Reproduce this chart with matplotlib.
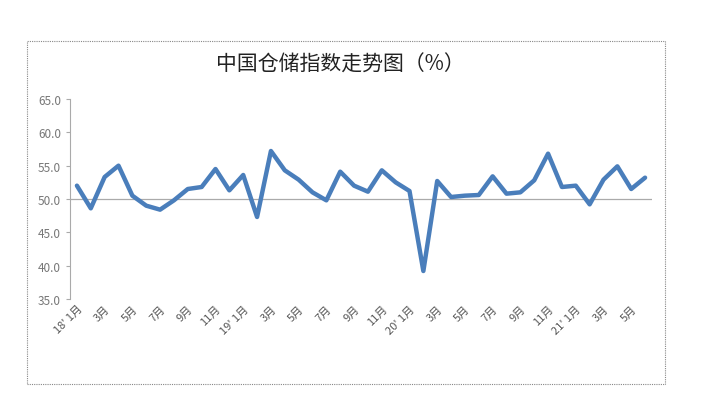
import matplotlib
matplotlib.use("Agg")
import matplotlib.pyplot as plt
from matplotlib.patches import Rectangle

plt.rcParams["font.family"] = ["Noto Sans CJK SC", "DejaVu Sans"]

values = [52.0, 48.6, 53.3, 55.0, 50.5, 49.0, 48.4, 49.8, 51.5, 51.8, 54.5, 51.3,
          53.6, 47.3, 57.2, 54.3, 52.9, 51.0, 49.8, 54.1, 52.0, 51.1, 54.3, 52.5,
          51.2, 39.2, 52.7, 50.3, 50.5, 50.6, 53.4, 50.8, 51.0, 52.8, 56.8, 51.8,
          52.0, 49.2, 52.9, 54.9, 51.5, 53.2]
tick_labels = ["18' 1月", "3月", "5月", "7月", "9月", "11月",
               "19' 1月", "3月", "5月", "7月", "9月", "11月",
               "20' 1月", "3月", "5月", "7月", "9月", "11月",
               "21' 1月", "3月", "5月"]
yticks = [35, 40, 45, 50, 55, 60, 65]
title = "中国仓储指数走势图（%）"

fig = plt.figure(figsize=(7.06, 4.10), dpi=100)
fig.patches.append(Rectangle((27/706, 1-385/410), (665-27)/706, (385-42)/410,
                             transform=fig.transFigure, fill=False,
                             edgecolor="#888888", lw=0.8, ls=(0, (1, 1))))
ax = fig.add_axes([70/706, 1-300/410, (652-70)/706, 200/410])
x = list(range(len(values)))
ax.plot(x, values, color="#4a7ebb", lw=3.2, solid_joinstyle="round", solid_capstyle="round")
ax.set_xlim(-0.5, len(values) - 0.5)
ax.set_ylim(35, 65)
ax.set_yticks(yticks)
ax.set_yticklabels([f"{v:.1f}" for v in yticks], color="#777777", fontsize=8.5)
ax.set_xticks(x[::2])
ax.set_xticklabels(tick_labels, rotation=45, ha="right", rotation_mode="anchor",
                   color="#555555", fontsize=8)
ax.set_xticks(x, minor=True)
for s in ["top", "right", "bottom"]:
    ax.spines[s].set_visible(False)
ax.spines["left"].set_color("#aaaaaa")
ax.axhline(50, color="#aaaaaa", lw=0.9, zorder=0)
ax.tick_params(axis="x", which="both", length=0, pad=3)
ax.tick_params(axis="y", length=3, color="#aaaaaa")
fig.text(340/706, 1-65/410, title, ha="center", va="center", fontsize=15, color="#222222")
fig.savefig("out.png", dpi=100)
